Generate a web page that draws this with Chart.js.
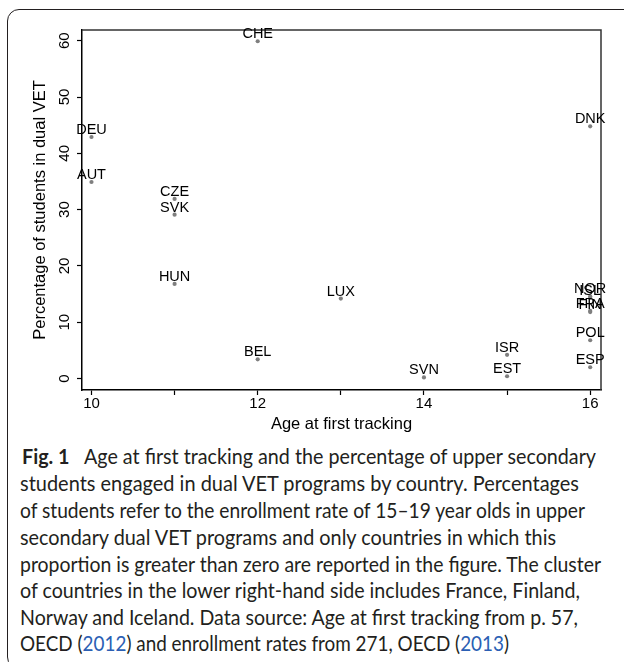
<!DOCTYPE html>
<html><head><meta charset="utf-8">
<script src="https://cdn.jsdelivr.net/npm/chart.js@4/dist/chart.umd.min.js"></script>
<style>
html,body{margin:0;padding:0;background:#fff;width:624px;height:662px;overflow:hidden;position:relative;}
#frame{position:absolute;left:7px;top:9px;width:700px;height:660px;border:1px solid #231f20;border-radius:12px;box-sizing:border-box;}
#wrap{position:absolute;left:0;top:0;width:624px;height:440px;}
.ln{position:absolute;left:20px;white-space:nowrap;transform-origin:0 50%;font-family:Lato,'Open Sans',sans-serif;font-size:20.5px;line-height:22px;height:22px;color:#231f20;}
.ln a{color:#2b5fb4;text-decoration:none;}
</style>
</head><body>
<div id="frame"></div>
<div id="wrap"><canvas id="c" width="624" height="440"></canvas></div>
<div id="cap"></div>
<script>
// ---- data ----
const countries = ['CHE','DEU','AUT','CZE','SVK','HUN','LUX','BEL','SVN','ISR','EST','DNK','NOR','ISL','FRA','FIN','POL','ESP'];
const ageFirstTracking = [12,10,10,11,11,11,13,12,14,15,15,16,16,16,16,16,16,16];
const dualVetShare = [59.9,42.9,34.9,31.9,29.1,16.8,14.2,3.4,0.2,4.2,0.4,44.8,14.6,14.3,12.0,11.8,6.8,2.0];
const xMajorTicks = [10,12,14,16];
const xMinorTicks = [11,13,15];
const yTicks = [0,10,20,30,40,50,60];
const xTitle = 'Age at first tracking';
const yTitle = 'Percentage of students in dual VET';
const captionLines = [
  ['<b style="font-weight:700">Fig. 1</b>&nbsp;&nbsp; Age at first tracking and the percentage of upper secondary', 574],
  ['students engaged in dual VET programs by country. Percentages', 559],
  ['of students refer to the enrollment rate of 15–19 year olds in upper', 565],
  ['secondary dual VET programs and only countries in which this', 536],
  ['proportion is greater than zero are reported in the figure. The cluster', 581],
  ['of countries in the lower right-hand side includes France, Finland,', 560],
  ['Norway and Iceland. Data source: Age at first tracking from p. 57,', 558],
  ['OECD (<a>2012</a>) and enrollment rates from 271, OECD (<a>2013</a>)', 489]
];
const captionCenters = [456,483,510,537,564,590,617,643];

// caption
const cap = document.getElementById('cap');
const lineEls = captionLines.map((l,i)=>{
  const d = document.createElement('div');
  d.className='ln'; d.innerHTML=l[0];
  d.style.top=(captionCenters[i]-11)+'px';
  if(i===0) d.style.left='22px';
  cap.appendChild(d); return d;
});
function fitLines(){
  lineEls.forEach((d,i)=>{
    d.style.transform='none';
    const w=d.getBoundingClientRect().width;
    d.style.transform='scaleX('+(captionLines[i][1]/w)+')';
  });
}
fitLines();
if(document.fonts&&document.fonts.ready) document.fonts.ready.then(fitLines);

const labelPlugin = {
  id:'pointLabels',
  afterDatasetsDraw(chart){
    const ctx=chart.ctx; const meta=chart.getDatasetMeta(0);
    ctx.save();
    ctx.font='14.5px "Liberation Sans", Arial, sans-serif';
    ctx.fillStyle='#000'; ctx.textAlign='center'; ctx.textBaseline='alphabetic';
    meta.data.forEach((pt,i)=>{ ctx.fillText(countries[i], pt.x, pt.y-3); });
    ctx.restore();
  }
};
const boxPlugin = {
  id:'box',
  beforeDatasetsDraw(chart){
    const {ctx, chartArea:a}=chart;
    ctx.save(); ctx.strokeStyle='#333'; ctx.lineWidth=1.5;
    ctx.beginPath(); ctx.moveTo(a.left,a.top); ctx.lineTo(a.right,a.top); ctx.lineTo(a.right,a.bottom); ctx.stroke();
    ctx.restore();
  }
};

const font = {family:'"Liberation Sans", Arial, sans-serif', size:15};
new Chart(document.getElementById('c'), {
  type:'scatter',
  data:{datasets:[{
    data: ageFirstTracking.map((x,i)=>({x, y:dualVetShare[i]})),
    pointRadius:2.1, pointHoverRadius:2.1, backgroundColor:'#7f7f7f', borderWidth:0, clip:false
  }]},
  options:{
    responsive:false, animation:false, devicePixelRatio:1,
    layout:{padding:{left:0,top:30,right:23,bottom:0}},
    plugins:{legend:{display:false}, tooltip:{enabled:false}},
    scales:{
      x:{type:'linear', min:9.886, max:16.13,
        afterBuildTicks:s=>{ s.ticks=[...xMajorTicks,...xMinorTicks].sort((a,b)=>a-b).map(v=>({value:v})); },
        afterFit:s=>{ s.height=50; },
        ticks:{font, color:'#000', padding:0, maxRotation:0, autoSkip:false, includeBounds:false,
          callback:v=> xMajorTicks.includes(v)? String(v) : ''},
        grid:{drawOnChartArea:false, drawTicks:true, tickLength:5, color:'#000', tickWidth:1.2},
        border:{display:true, color:'#000', width:1.5},
        title:{display:true, text:xTitle, color:'#000', font:{family:font.family, size:16.5}, padding:{top:0,bottom:6}}
      },
      y:{type:'linear', min:-2.04, max:61.9,
        afterBuildTicks:s=>{ s.ticks=yTicks.map(v=>({value:v})); },
        afterFit:s=>{ s.width=82; },
        ticks:{font, color:'#000', padding:4, minRotation:90, maxRotation:90, crossAlign:'center', autoSkip:false, includeBounds:false,
          callback:v=>String(v)},
        grid:{drawOnChartArea:false, drawTicks:true, tickLength:5, color:'#000', tickWidth:1.2},
        border:{display:true, color:'#000', width:1.5},
        title:{display:true, text:yTitle, color:'#000', font:{family:font.family, size:16.5}, padding:{top:31,bottom:0}}
      }
    }
  },
  plugins:[boxPlugin,labelPlugin]
});
</script>
</body></html>
